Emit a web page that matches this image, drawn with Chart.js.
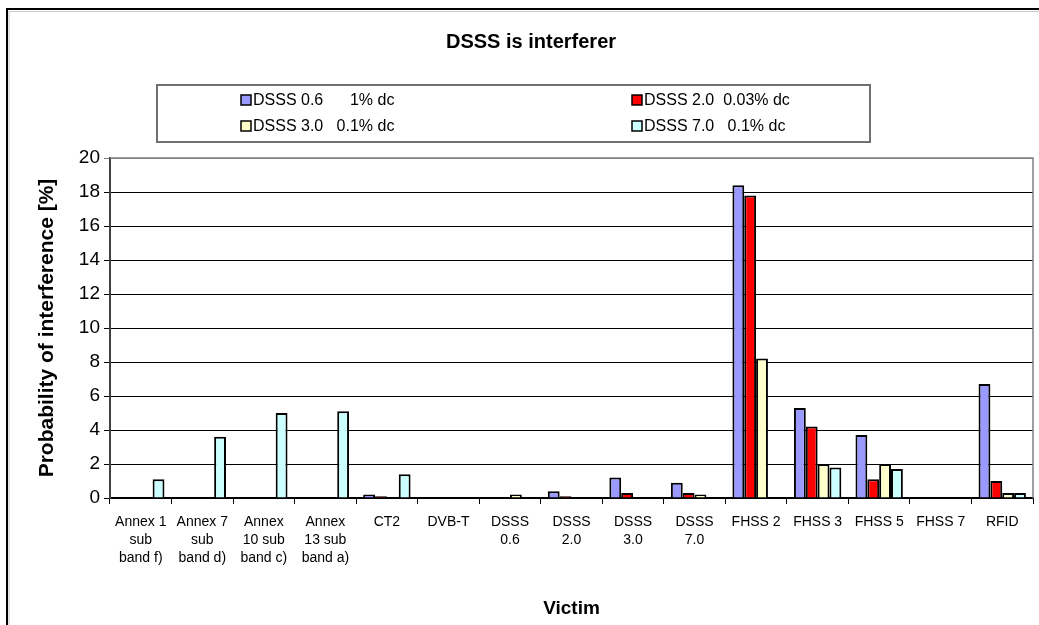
<!DOCTYPE html>
<html>
<head>
<meta charset="utf-8">
<title>DSSS is interferer</title>
<script src="https://cdn.jsdelivr.net/npm/chart.js@4/dist/chart.umd.min.js"></script>
<style>
  html, body { margin: 0; padding: 0; background: #fff; }
  #chart { display: block; }
</style>
</head>
<body>
<canvas id="chart" width="1039" height="625"></canvas>
<script>
// Victim systems along the x axis
const categories = [
  ['Annex 1', 'sub', 'band f)'],
  ['Annex 7', 'sub', 'band d)'],
  ['Annex', '10 sub', 'band c)'],
  ['Annex', '13 sub', 'band a)'],
  'CT2',
  'DVB-T',
  ['DSSS', '0.6'],
  ['DSSS', '2.0'],
  ['DSSS', '3.0'],
  ['DSSS', '7.0'],
  'FHSS 2',
  'FHSS 3',
  'FHSS 5',
  'FHSS 7',
  'RFID'
];

// Interferer series: name and duty cycle
const seriesLabels = [
  'DSSS 0.6      1% dc',
  'DSSS 2.0  0.03% dc',
  'DSSS 3.0   0.1% dc',
  'DSSS 7.0   0.1% dc'
];

// Probability of interference [%]
const dsss06 = [0, 0, 0, 0, 0.2, 0, 0, 0.4, 1.2, 0.9, 18.4, 5.3, 3.7, 0, 6.7];
const dsss20 = [0, 0, 0, 0, 0.1, 0, 0, 0.1, 0.3, 0.3, 17.8, 4.2, 1.1, 0, 1.0];
const dsss30 = [0, 0, 0, 0, 0, 0, 0.2, 0, 0, 0.2, 8.2, 2.0, 2.0, 0, 0.3];
const dsss70 = [1.1, 3.6, 5.0, 5.1, 1.4, 0, 0, 0, 0, 0, 0, 1.8, 1.7, 0, 0.3];

// Value axis
const yMin = 0;
const yMax = 20;
const yStep = 2;

const seriesColors = ['#9999FF', '#FF0000', '#FFFFCC', '#CCFFFF'];
const seriesValues = [dsss06, dsss20, dsss30, dsss70];

const FONT = 'Arial, "Liberation Sans", Helvetica, sans-serif';

// Outer frame, plot-area frame and the boxed two-column legend
const framePlugin = {
  id: 'frame',
  beforeDraw(chart) {
    const ctx = chart.ctx;
    ctx.save();
    ctx.fillStyle = '#fff';
    ctx.fillRect(0, 0, chart.width, chart.height);
    // chart frame
    ctx.strokeStyle = '#c8c8c8';
    ctx.lineWidth = 1;
    ctx.beginPath();
    ctx.moveTo(9, chart.height);
    ctx.lineTo(9, 11.5);
    ctx.lineTo(chart.width, 11.5);
    ctx.stroke();
    ctx.strokeStyle = '#000';
    ctx.lineWidth = 2;
    ctx.beginPath();
    ctx.moveTo(7, chart.height);
    ctx.lineTo(7, 9);
    ctx.lineTo(chart.width, 9);
    ctx.stroke();
    ctx.restore();
  },
  beforeDatasetsDraw(chart) {
    const {ctx, chartArea: a} = chart;
    ctx.save();
    ctx.strokeStyle = '#808080';
    ctx.lineWidth = 1.5;
    ctx.beginPath();
    ctx.moveTo(a.left, a.top);
    ctx.lineTo(a.right, a.top);
    ctx.lineTo(a.right, a.bottom);
    ctx.stroke();
    ctx.restore();
  },
  afterDraw(chart) {
    const ctx = chart.ctx;
    ctx.save();
    // legend box
    ctx.strokeStyle = '#707070';
    ctx.lineWidth = 2;
    ctx.strokeRect(157, 85, 713, 57);
    const colX = [241, 632];
    const rowY = [100, 126];
    ctx.font = '16px ' + FONT;
    ctx.textBaseline = 'middle';
    ctx.textAlign = 'left';
    chart.data.datasets.forEach((ds, i) => {
      const x = colX[i % 2];
      const y = rowY[Math.floor(i / 2)];
      ctx.fillStyle = ds.backgroundColor;
      ctx.fillRect(x, y - 5, 10, 10);
      ctx.strokeStyle = '#000';
      ctx.lineWidth = 1.5;
      ctx.strokeRect(x, y - 5, 10, 10);
      ctx.fillStyle = '#000';
      ctx.fillText(ds.label, x + 12, y + 1);
    });
    ctx.restore();
  }
};

new Chart(document.getElementById('chart'), {
  type: 'bar',
  data: {
    labels: categories,
    datasets: seriesValues.map((vals, i) => ({
      label: seriesLabels[i],
      data: vals,
      backgroundColor: seriesColors[i],
      borderColor: '#000',
      borderWidth: 2,
      categoryPercentage: 0.77,
      barPercentage: 1.0
    }))
  },
  options: {
    responsive: false,
    animation: false,
    devicePixelRatio: 1,
    layout: { padding: { left: 29, right: 6, top: 0, bottom: 0 } },
    plugins: {
      legend: { display: false },
      tooltip: { enabled: false },
      title: {
        display: true,
        text: 'DSSS is interferer',
        color: '#000',
        font: { family: FONT, size: 20, weight: 'bold', lineHeight: 1.2 },
        padding: { top: 30, bottom: 104 }
      }
    },
    scales: {
      x: {
        grid: {
          drawOnChartArea: false,
          drawTicks: true,
          tickLength: 6,
          color: '#000',
          offset: true
        },
        border: { display: true, color: '#000', width: 1.5 },
        ticks: {
          color: '#000',
          font: { family: FONT, size: 14, lineHeight: 1.3 },
          padding: 9,
          maxRotation: 0,
          autoSkip: false
        },
        title: {
          display: true,
          text: 'Victim',
          color: '#000',
          font: { family: FONT, size: 19, weight: 'bold', lineHeight: 1.2 },
          padding: { top: 0, bottom: 5 }
        },
        afterFit(scale) { scale.height = 127; }
      },
      y: {
        min: yMin,
        max: yMax,
        grid: {
          color: (c) => (c.tick && c.tick.value === yMax ? '#808080' : '#000'),
          lineWidth: 1,
          drawTicks: true,
          tickLength: 6
        },
        border: { display: true, color: '#404040', width: 2 },
        ticks: {
          stepSize: yStep,
          color: '#000',
          font: { family: FONT, size: 19 },
          padding: 4
        },
        title: {
          display: true,
          text: 'Probability of interference [%]',
          color: '#000',
          font: { family: FONT, size: 21, weight: 'bold', lineHeight: 1.2 },
          padding: { top: 6, bottom: 0 }
        },
        afterFit(scale) { scale.width = 81; }
      }
    }
  },
  plugins: [framePlugin]
});
</script>
</body>
</html>
